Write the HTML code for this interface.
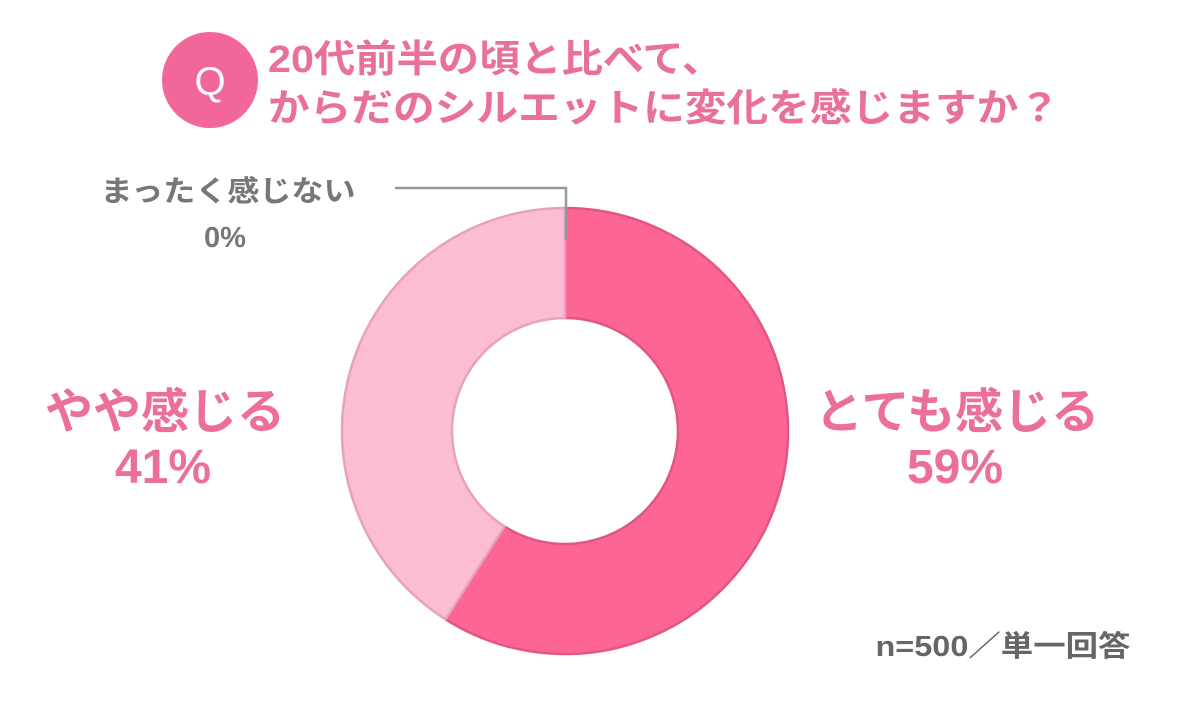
<!DOCTYPE html>
<html><head><meta charset="utf-8"><style>
body{margin:0;width:1200px;height:712px;background:#fff;overflow:hidden;font-family:"Liberation Sans","Noto Sans CJK JP",sans-serif}
</style></head><body>
<svg width="1200" height="712">
<circle cx="210" cy="80" r="48" fill="#f2669a"/>
<text x="210" y="95" text-anchor="middle" font-size="40" fill="#fff" font-family="Liberation Sans, sans-serif">Q</text>
<text x="268" y="72" font-size="38" font-weight="bold" fill="#e8709a" textLength="455" lengthAdjust="spacingAndGlyphs" font-family="Liberation Sans, Noto Sans CJK JP, sans-serif">20代前半の頃と比べて、</text>
<text x="268" y="121" font-size="38" font-weight="bold" fill="#e8709a" textLength="792" lengthAdjust="spacingAndGlyphs" font-family="Liberation Sans, Noto Sans CJK JP, sans-serif">からだのシルエットに変化を感じますか？</text>
<g id="slices"></g>
<polyline points="395,188 566,188 566,240" fill="none" stroke="#999" stroke-width="2.5"/>
<text x="228" y="201" text-anchor="middle" font-size="29" font-weight="bold" fill="#777" textLength="255" lengthAdjust="spacingAndGlyphs" font-family="Liberation Sans, Noto Sans CJK JP, sans-serif">まったく感じない</text>
<text x="225" y="247" text-anchor="middle" font-size="29" font-weight="bold" fill="#777" font-family="Liberation Sans, Noto Sans CJK JP, sans-serif">0%</text>
<text x="165" y="428" text-anchor="middle" font-size="48" font-weight="bold" fill="#ec6f9a" font-family="Liberation Sans, Noto Sans CJK JP, sans-serif">やや感じる</text>
<text x="163" y="483" text-anchor="middle" font-size="48" font-weight="bold" fill="#ec6f9a" font-family="Liberation Sans, Noto Sans CJK JP, sans-serif">41%</text>
<text x="957" y="428" text-anchor="middle" font-size="48" font-weight="bold" fill="#ec6f9a" font-family="Liberation Sans, Noto Sans CJK JP, sans-serif">とても感じる</text>
<text x="955" y="483" text-anchor="middle" font-size="48" font-weight="bold" fill="#ec6f9a" font-family="Liberation Sans, Noto Sans CJK JP, sans-serif">59%</text>
<text x="1003" y="656" text-anchor="middle" font-size="29" font-weight="bold" fill="#666" textLength="255" lengthAdjust="spacingAndGlyphs" font-family="Liberation Sans, Noto Sans CJK JP, sans-serif">n=500／単一回答</text>
</svg>
<script>
const categories=["とても感じる","やや感じる","まったく感じない"];
const values=[59,41,0];
const fills=["#fd6594","#fcbcd3","#ccc"];
const strokes=["#e0577f","#e6a3bb","#999"];
const cx=565,cy=431,R=223,r=113;
const g=document.getElementById('slices');
const total=values.reduce((a,b)=>a+b,0);
function pt(rad,a){return [cx+rad*Math.sin(a),cy-rad*Math.cos(a)];}
let acc=0;
values.forEach((v,i)=>{
  if(v<=0)return;
  const a0=acc/total*2*Math.PI;acc+=v;const a1=acc/total*2*Math.PI;
  const lg=(a1-a0)>Math.PI?1:0;
  const p1=pt(R,a0),p2=pt(R,a1),p3=pt(r,a1),p4=pt(r,a0);
  const p=document.createElementNS('http://www.w3.org/2000/svg','path');
  p.setAttribute('d',`M${p1}A${R},${R} 0 ${lg} 1 ${p2}L${p3}A${r},${r} 0 ${lg} 0 ${p4}Z`);
  p.setAttribute('fill',fills[i]);p.setAttribute('stroke',strokes[i]);p.setAttribute('stroke-width','2.5');
  
  
  g.appendChild(p);
});
</script>
</body></html>
